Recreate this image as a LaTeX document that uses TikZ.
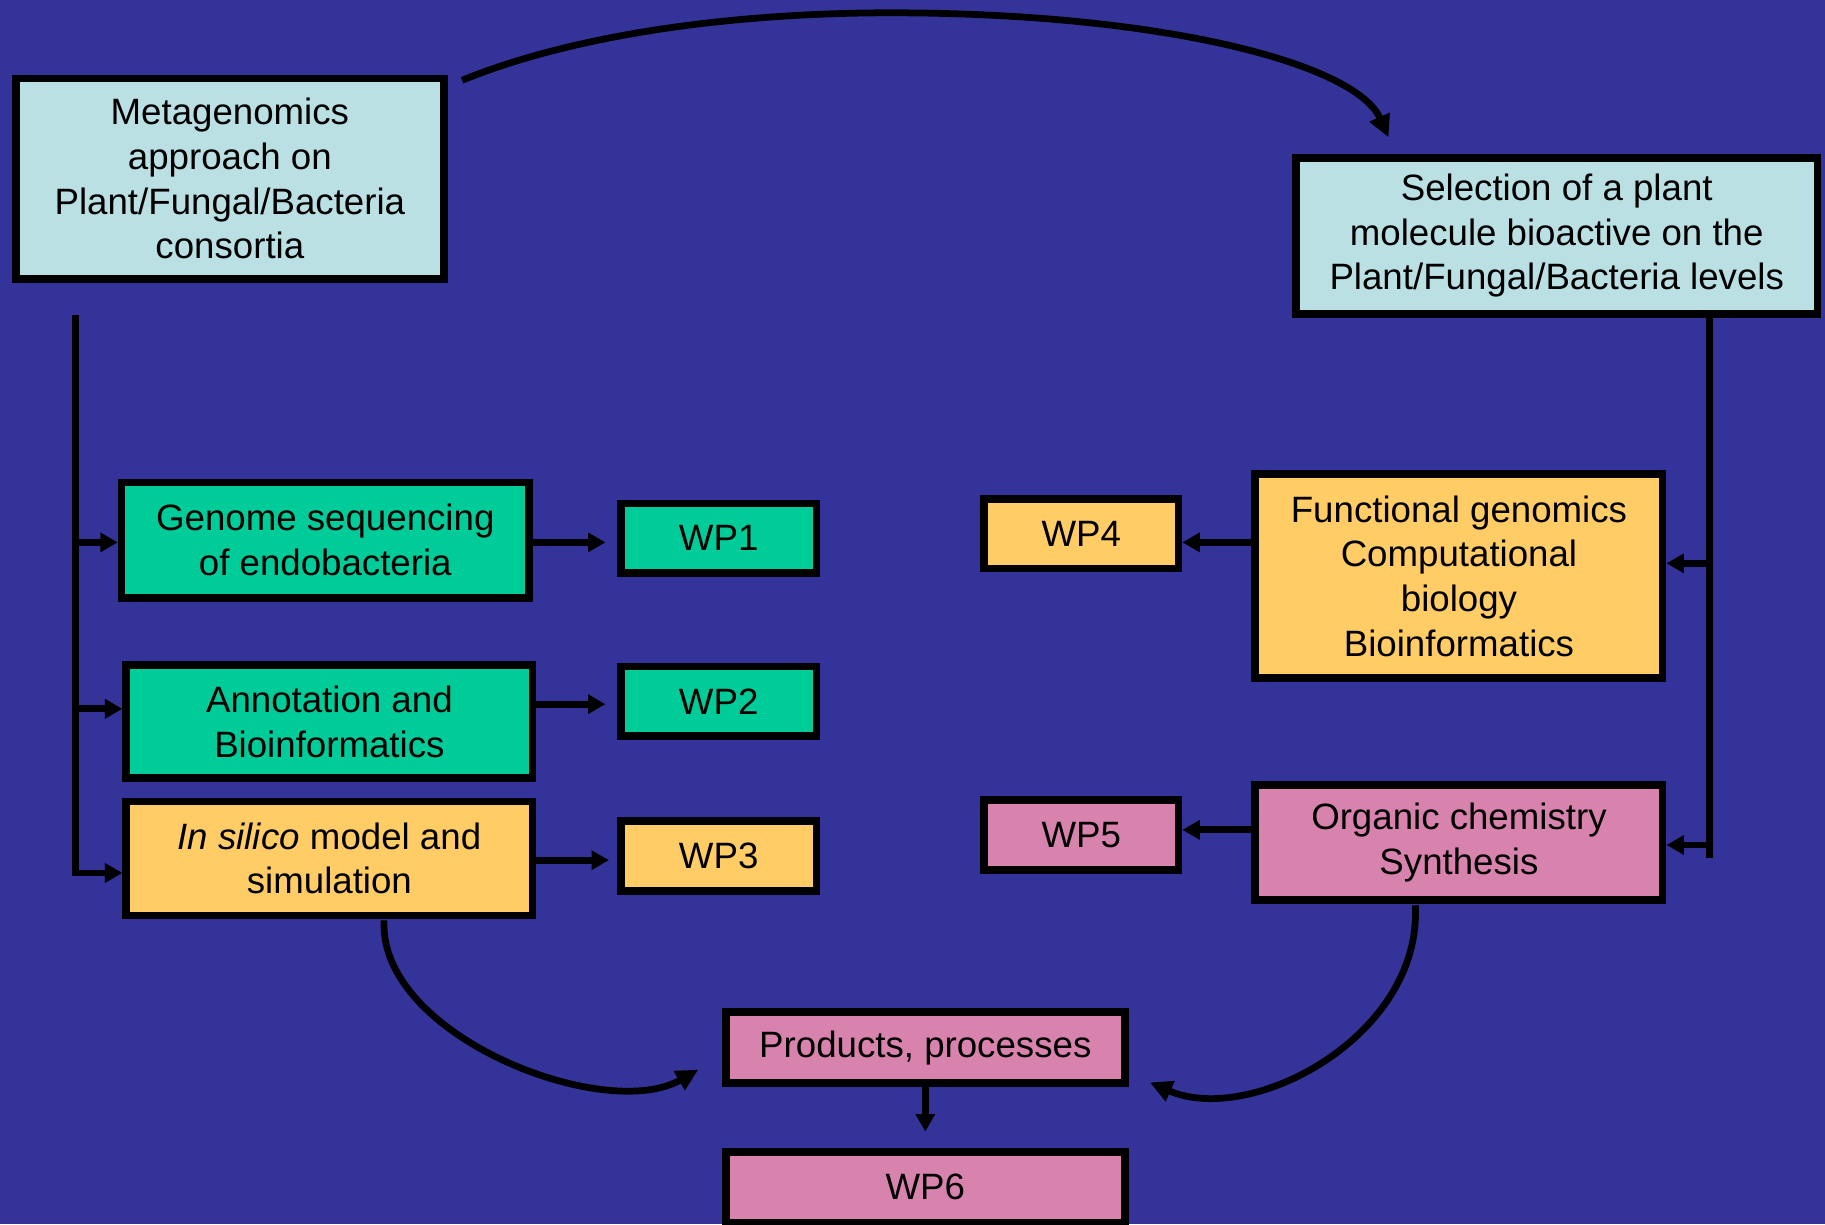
\documentclass[tikz,border=0pt]{standalone}
\usepackage{fontspec}
\setmainfont{Liberation Sans}
\usetikzlibrary{arrows.meta,calc}

\definecolor{bgblue}{RGB}{51,51,153}
\definecolor{paleblue}{RGB}{186,224,228}
\definecolor{seagreen}{RGB}{0,204,153}
\definecolor{sand}{RGB}{255,204,102}
\definecolor{rose}{RGB}{216,131,174}

\begin{document}
\begin{tikzpicture}[x=1pt,y=-1pt,
  box/.style={draw=black,line width=6.6pt,align=center,inner sep=0pt,
    font=\fontsize{31.5pt}{38.5pt}\selectfont},
  conn/.style={draw=black,line width=5.8pt},
  tip/.style={-{Triangle[length=15pt,width=16pt]}},
  curvetip/.style={-{Triangle[length=19pt,width=18pt]}}]

% canvas
\useasboundingbox (0,0) rectangle (1568,1052);
\fill[bgblue] (0,0) rectangle (1568,1052);

% top row
\node[box,fill=paleblue,minimum width=368pt,minimum height=172pt] (meta) at (197.5,153.5)
  {Metagenomics\\approach on\\Plant/Fungal/Bacteria\\consortia};
\node[box,fill=paleblue,minimum width=448pt,minimum height=134pt] (sel) at (1337.5,202.5)
  {Selection of a plant\\molecule bioactive on the\\Plant/Fungal/Bacteria levels};

% left column
\node[box,fill=seagreen,minimum width=350pt,minimum height=99pt] (genome) at (279.5,464)
  {Genome sequencing\\of endobacteria};
\node[box,fill=seagreen,minimum width=349pt,minimum height=97pt] (annot) at (283,620)
  {Annotation and\\Bioinformatics};
\node[box,fill=sand,minimum width=349pt,minimum height=98pt] (insilico) at (283,737.5)
  {\textit{In silico} model and\\simulation};

\node[box,fill=seagreen,minimum width=168pt,minimum height=60pt] (wp1) at (617.5,462.5) {WP1};
\node[box,fill=seagreen,minimum width=168pt,minimum height=60pt] (wp2) at (617.5,602.5) {WP2};
\node[box,fill=sand,minimum width=168pt,minimum height=60pt] (wp3) at (617.5,735.5) {WP3};

% right column
\node[box,fill=sand,minimum width=350pt,minimum height=175pt] (func) at (1253.5,495)
  {Functional genomics\\Computational\\biology\\Bioinformatics};
\node[box,fill=rose,minimum width=350pt,minimum height=99pt] (organic) at (1253.5,724)
  {Organic chemistry\\Synthesis};

\node[box,fill=sand,minimum width=167pt,minimum height=60pt] (wp4) at (929,458.5) {WP4};
\node[box,fill=rose,minimum width=167pt,minimum height=60pt] (wp5) at (929,717.5) {WP5};

% bottom
\node[box,fill=rose,minimum width=343pt,minimum height=61pt] (products) at (795,900) {Products, processes};
\node[box,fill=rose,minimum width=343pt,minimum height=61pt] (wp6) at (795,1020) {WP6};

% left trunk and its branches
\coordinate (ltop) at (65,271);
\coordinate (l1) at (65,466);
\coordinate (l2) at (65,609);
\coordinate (l3) at (65,750);
\draw[conn,tip] (ltop) -- (l3) -- (l3 -| insilico.west);
\draw[conn,tip] (l1) -- (l1 -| genome.west);
\draw[conn,tip] (l2) -- (l2 -| annot.west);

% right trunk and its branches
\coordinate (rbot) at (1469,737);
\coordinate (r1) at (1469,484);
\coordinate (r2) at (1469,726);
\draw[conn] (sel.south -| rbot) -- (rbot);
\draw[conn,tip] (r1) -- (r1 -| func.east);
\draw[conn,tip] (r2) -- (r2 -| organic.east);

% boxes to work packages
\coordinate (y2) at (0,605);
\coordinate (y3) at (0,739);
\coordinate (y5) at (0,713);
\draw[conn,tip,shorten >=10pt] (l1 -| genome.east) -- (l1 -| wp1.west);
\draw[conn,tip,shorten >=10pt] (y2 -| annot.east) -- (y2 -| wp2.west);
\draw[conn,tip,shorten >=7pt] (y3 -| insilico.east) -- (y3 -| wp3.west);
\draw[conn,tip] (l1 -| func.west) -- (l1 -| wp4.east);
\draw[conn,tip] (y5 -| organic.west) -- (y5 -| wp5.east);
\draw[conn,tip,shorten >=14pt] (products.south) -- (wp6.north);

% curved links
\coordinate (topstart) at (397,69);
\coordinate (topend) at (1193,118);
\draw[conn,curvetip] (topstart) .. controls (500,27) and (640,11) .. (765,11)
  .. controls (1000,11) and (1165,55) .. (topend);

\coordinate (leftend) at (600,919);
\draw[conn,curvetip] ($(insilico.south)+(47,1)$) .. controls (325,890) and (520,965) .. (leftend);

\coordinate (rightend) at (988,930);
\draw[conn,curvetip] ($(organic.south)+(-37.5,1)$) .. controls (1222,890) and (1075,968) .. (rightend);
\end{tikzpicture}
\end{document}
